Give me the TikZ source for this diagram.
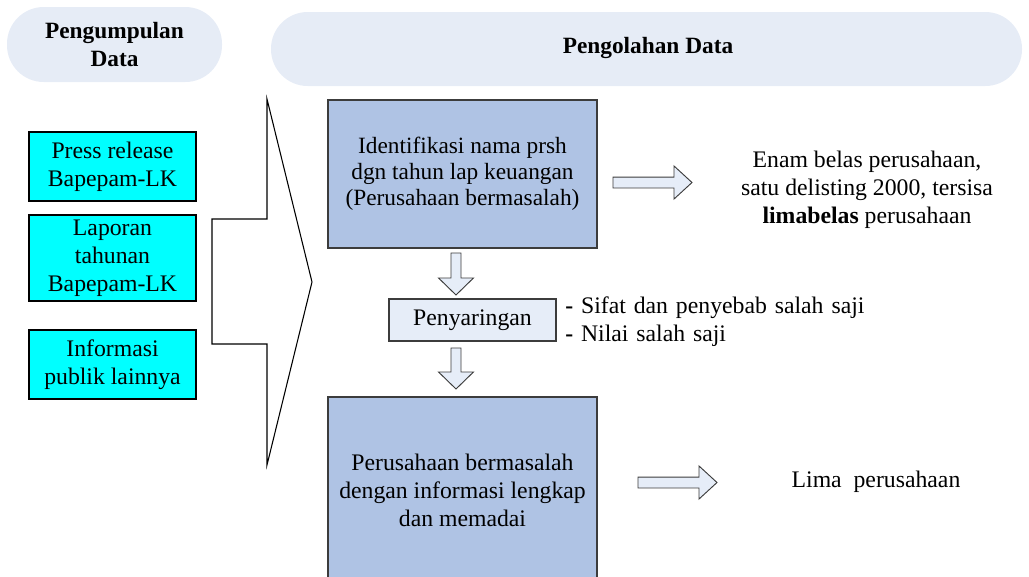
\documentclass[tikz,border=0pt]{standalone}
\usepackage{fontspec}
\setmainfont{Liberation Serif}
\usetikzlibrary{calc}

\definecolor{pillfill}{RGB}{230,236,246}
\definecolor{stepfill}{RGB}{175,195,228}
\definecolor{palefill}{RGB}{230,237,248}
\definecolor{srcfill}{RGB}{0,255,255}
\definecolor{edge}{RGB}{60,60,60}

\tikzset{
  body/.style={font=\fontsize{17.8}{21}\selectfont, align=center},
  pill/.style={fill=pillfill, rounded corners=27.5pt, inner sep=0pt,
               font=\fontsize{17.5}{21}\selectfont\bfseries, align=center},
  srcbox/.style={body, draw=black, line width=0.8pt, fill=srcfill, inner sep=0pt},
  stepbox/.style={draw=edge, line width=0.8pt, fill=stepfill, inner sep=0pt,
                  font=\fontsize{17.5}{19.5}\selectfont, align=center},
  filterbox/.style={body, draw=edge, line width=0.8pt, fill=palefill, inner sep=0pt},
  panel/.style={body, fill=white, inner sep=0pt},
  % block arrow drawn from start to tip: #1 half shaft, #2 half head, #3 head length
  blockarrow/.style n args={3}{draw=edge, line width=0.7pt, fill=palefill, line join=miter,
    to path={
      ($(\tikztostart)!#1!90:(\tikztotarget)$)
      -- ($(\tikztotarget)!#3!(\tikztostart)!#1!90:(\tikztotarget)$)
      -- ($(\tikztotarget)!#3!(\tikztostart)!#2!90:(\tikztotarget)$)
      -- (\tikztotarget)
      -- ($(\tikztotarget)!#3!(\tikztostart)!#2!-90:(\tikztotarget)$)
      -- ($(\tikztotarget)!#3!(\tikztostart)!#1!-90:(\tikztotarget)$)
      -- ($(\tikztostart)!#1!-90:(\tikztotarget)$)
      -- cycle}},
  bigarrow/.style={draw=black, line width=0.8pt, fill=white, line join=miter}
}

\begin{document}
\begin{tikzpicture}[x=0.75pt, y=-0.75pt]
\useasboundingbox (0,0) rectangle (1029,576);
\begin{scope}
\clip (0,0) rectangle (1029,576);

% column headers
\node[pill, minimum width={215*0.75pt}, minimum height={75*0.75pt}]
  (hcollect) at (114.5,44.5) {Pengumpulan\\Data};
\node[pill, minimum width={751*0.75pt}, minimum height={74*0.75pt}]
  (hprocess) at (646.5,49) {};
\node[font=\fontsize{17.5}{21}\selectfont\bfseries] (hproctext) at (648,48) {Pengolahan Data};

% data sources
\node[srcbox, minimum width={167*0.75pt}, minimum height={69*0.75pt}]
  (src1) at (112.5,166.5) {Press release\\Bapepam-LK};
\node[srcbox, minimum width={167*0.75pt}, minimum height={86*0.75pt}]
  (src2) at (112.5,258) {Laporan\\tahunan\\Bapepam-LK};
\node[srcbox, minimum width={167*0.75pt}, minimum height={69*0.75pt}]
  (src3) at (112.5,364.5) {Informasi\\publik lainnya};

% large arrow gathering the sources
\coordinate (ga1) at (212,219);
\coordinate (ga2) at (267,219);
\coordinate (ga3) at (267,99);
\coordinate (gtip) at (312,282);
\coordinate (ga5) at (267,465);
\coordinate (ga6) at (267,344);
\coordinate (ga7) at (212,344);
\draw[bigarrow] (ga1) -- (ga2) -- (ga3) -- (gtip) -- (ga5) -- (ga6) -- (ga7) -- cycle;

% processing steps
\node[stepbox, minimum width={269*0.75pt}, minimum height={148*0.75pt}]
  (ident) at (462.5,174) {Identifikasi nama prsh\\dgn tahun lap keuangan\\(Perusahaan bermasalah)};
\node[filterbox, minimum width={167*0.75pt}, minimum height={42*0.75pt}]
  (filter) at (472.5,320) {Penyaringan};
\node[stepbox, font=\fontsize{17.8}{21}\selectfont, minimum width={269*0.75pt}, minimum height={187*0.75pt}]
  (final) at (462.5,490.5) {Perusahaan bermasalah\\dengan informasi lengkap\\dan memadai};

% results and criteria
\node[panel, minimum width={291*0.75pt}, minimum height={158*0.75pt}]
  (res1) at (867,190) {Enam belas perusahaan,\\satu delisting 2000, tersisa\\\textbf{limabelas} perusahaan};
\node[panel, align=left, anchor=west, text width={402*0.75pt}, minimum height={90*0.75pt}, inner xsep={6*0.75pt}]
  (crit) at (559,322) {\textbf{-} Sifat dan penyebab salah saji\\\textbf{-} Nilai salah saji};
\node[panel, minimum width={209*0.75pt}, minimum height={98*0.75pt}]
  (res2) at (876,482) {Lima~ perusahaan};

% block arrows
\coordinate (d1s) at (456,253);
\coordinate (d1e) at (456,295);
\coordinate (d2s) at (456,348);
\coordinate (d2e) at (456,389);
\coordinate (r1s) at (613,182.5);
\coordinate (r1e) at (692,182.5);
\coordinate (r2s) at (638,482.5);
\coordinate (r2e) at (717,482.5);
\draw[blockarrow={3.75pt}{13.1pt}{12.75pt}] (d1s) to (d1e);
\draw[blockarrow={3.75pt}{13.1pt}{12.75pt}] (d2s) to (d2e);
\draw[blockarrow={4.1pt}{12.4pt}{13.5pt}] (r1s) to (r1e);
\draw[blockarrow={4.1pt}{12.4pt}{13.5pt}] (r2s) to (r2e);
\end{scope}
\end{tikzpicture}
\end{document}
